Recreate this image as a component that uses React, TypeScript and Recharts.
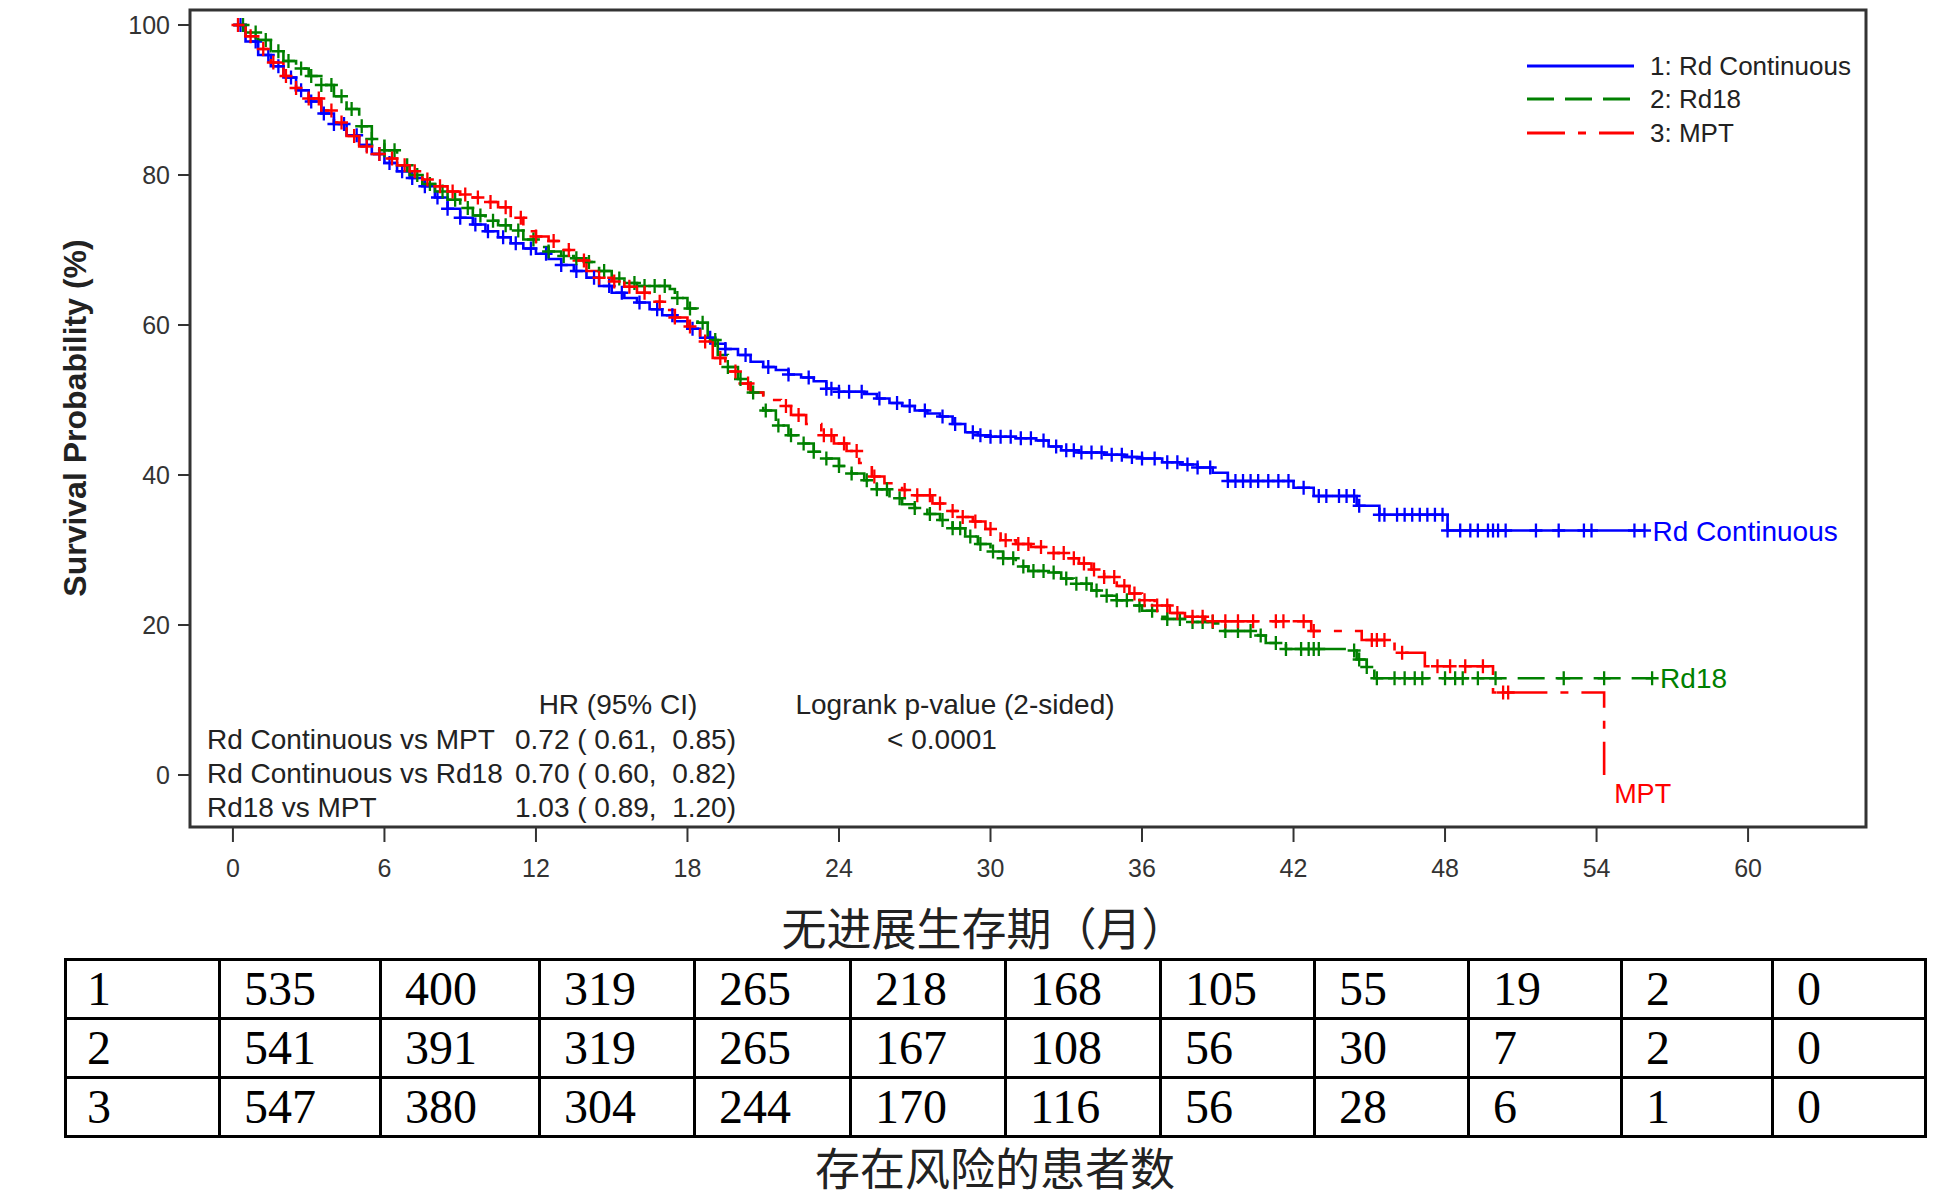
import React from 'react';
import { ComposedChart, Line, Scatter, XAxis, YAxis, ReferenceArea, ReferenceDot, Legend } from 'recharts';

// ---------- data ----------
const monthTicks = [0, 6, 12, 18, 24, 30, 36, 42, 48, 54, 60];
const survivalTicks = [0, 20, 40, 60, 80, 100];

// [month, survival %] step nodes
const rdContinuousSteps: [number, number][] = [
  [0, 100], [0.5, 97.8], [1.0, 96], [1.5, 94.5], [2.0, 93], [2.5, 91.3], [3.0, 89.8], [3.5, 88.2],
  [4.0, 86.8], [4.5, 85.3], [5.0, 84], [5.5, 82.8], [6.0, 81.6], [6.5, 80.5], [7.0, 79.6], [7.5, 78.5],
  [8.0, 77], [8.5, 75.5], [9.0, 74.3], [9.5, 73.4], [10.0, 72.5], [10.5, 71.7], [11.0, 70.9], [11.5, 70.2],
  [12.0, 69.5], [12.5, 68.8], [13.0, 68], [13.5, 67.2], [14.0, 66.3], [14.5, 65.2], [15.0, 64.3], [15.5, 63.6],
  [16.0, 63], [16.5, 62.1], [17.0, 61.3], [17.5, 60.5], [18.0, 59.5], [18.5, 58.3], [19.0, 57.5], [19.5, 56.8],
  [20.0, 56], [20.5, 55.1], [21.0, 54.4], [21.5, 54], [22.0, 53.4], [22.5, 53], [23.0, 52.5], [23.5, 51.5],
  [24.0, 51.1], [25.0, 50.8], [25.5, 50.2], [26.0, 49.6], [26.5, 49.2], [27.0, 48.6], [27.5, 48.2], [28.0, 47.8],
  [28.5, 46.8], [29.0, 45.7], [29.5, 45.3], [30.0, 45.1], [31.0, 44.9], [31.8, 44.6], [32.3, 43.8], [32.8, 43.3],
  [33.5, 43], [34.5, 42.7], [35.3, 42.4], [36.0, 42.2], [36.8, 41.7], [37.5, 41.4], [38.2, 41], [38.8, 40.3],
  [39.4, 39.2], [42.0, 38.3], [42.8, 37.2], [44.5, 35.9], [45.4, 34.7], [48.1, 32.6], [55.9, 32.6],
];
const rd18Steps: [number, number][] = [
  [0, 100], [0.5, 99], [1.0, 98], [1.5, 96.5], [2.0, 95.2], [2.5, 94.2], [3.0, 93.2], [3.5, 92],
  [4.0, 90.5], [4.5, 88.8], [5.0, 86.5], [5.5, 84.8], [6.0, 83.3], [6.5, 81.3], [7.0, 80], [7.5, 78.8],
  [8.0, 77.8], [8.5, 76.7], [9.0, 75.6], [9.5, 74.6], [10.0, 73.9], [10.5, 73.3], [11.0, 72.6], [11.5, 71.4],
  [12.0, 70.4], [12.5, 69.8], [13.0, 69.2], [13.5, 68.9], [14.0, 68.4], [14.5, 67.2], [15.0, 66.2], [15.5, 65.6],
  [16.0, 65.2], [17.3, 64.8], [17.5, 63.6], [18.0, 62.2], [18.4, 60.3], [18.8, 58], [19.2, 56], [19.6, 54.4],
  [20.0, 52.8], [20.5, 51], [21.0, 48.6], [21.5, 46.6], [22.0, 45.3], [22.5, 44.2], [23.0, 43.1], [23.5, 42.2],
  [24.0, 41.2], [24.5, 40.2], [25.0, 39.3], [25.5, 38.1], [26.0, 36.9], [26.5, 36.1], [27.0, 35.6], [27.5, 34.8],
  [28.0, 34], [28.5, 32.9], [29.0, 31.8], [29.5, 30.8], [30.0, 29.8], [30.5, 28.9], [31.0, 27.8], [31.5, 27.2],
  [32.4, 27], [32.8, 26.2], [33.3, 25.5], [34.0, 24.6], [34.5, 23.9], [35.0, 23.3], [35.5, 22.6], [36.0, 21.9],
  [36.5, 21.1], [37.0, 20.8], [38.0, 20.4], [38.9, 20.2], [39.2, 19.2], [40.6, 18.6], [40.9, 17.6], [41.7, 16.8],
  [44.3, 16.6], [44.5, 15.4], [44.9, 14.4], [45.2, 12.9], [56.2, 12.9],
];
const mptSteps: [number, number][] = [
  [0, 100], [0.5, 98.5], [1.0, 96.8], [1.5, 95], [2.0, 93.2], [2.5, 91.6], [3.0, 90.2], [3.5, 88.6],
  [4.0, 87], [4.5, 85.2], [5.0, 83.8], [5.5, 82.8], [6.0, 82.2], [6.5, 81.3], [7.0, 80.5], [7.5, 79.4],
  [8.0, 78.5], [8.5, 77.8], [9.0, 77.4], [9.5, 77], [10.0, 76.4], [10.5, 75.7], [11.0, 74.3], [11.5, 72.5],
  [12.0, 71.8], [12.5, 71.2], [13.0, 70], [13.5, 68.6], [14.0, 67.2], [14.5, 66.3], [15.0, 65.8], [15.5, 65.1],
  [16.0, 64.3], [16.5, 63.1], [17.0, 62], [17.5, 61], [18.0, 59.8], [18.5, 57.8], [19.0, 55.6], [19.5, 53.8],
  [20.0, 52.2], [20.5, 51], [21.0, 50], [21.7, 49.2], [22.1, 48], [22.7, 46.8], [23.3, 45.3], [23.8, 44.2],
  [24.3, 43.2], [24.8, 41.6], [25.3, 39.8], [25.8, 38.9], [26.5, 38], [27.0, 37.3], [27.7, 36.2], [28.3, 35.2],
  [28.8, 34.4], [29.3, 33.8], [29.8, 32.8], [30.4, 31.3], [31.0, 30.8], [31.6, 30.4], [32.4, 29.6], [33.0, 28.9],
  [33.5, 28.2], [34.0, 27.4], [34.5, 26.4], [35.0, 25.2], [35.5, 24.2], [36.0, 23.3], [36.5, 22.6], [37.1, 21.6],
  [37.7, 21.1], [38.5, 20.5], [42.7, 19.2], [44.7, 18.0], [46.0, 16.3], [47.2, 14.5], [49.9, 11.0], [54.3, 0],
];

// censoring times (months)
const rdContinuousCensored = [
  0.3, 0.9, 1.4, 1.8, 2.3, 2.7, 3.1, 3.6, 4.0, 4.4, 4.9, 5.3, 5.8, 6.2, 6.7, 7.1, 7.6, 8.1, 8.5, 9.0,
  9.6, 10.1, 10.7, 11.2, 11.8, 12.4, 13.0, 13.6, 14.3, 14.9, 15.4, 16.1, 16.8, 17.4, 18.2, 18.9, 19.5, 20.3,
  21.2, 22.0, 22.8, 23.5, 23.7, 24.0, 24.4, 24.9, 25.6, 26.3, 26.8, 27.4, 28.1, 28.6, 29.3, 29.6, 30.0, 30.4,
  30.8, 31.2, 31.6, 32.1, 32.6, 33.0, 33.3, 33.6, 34.0, 34.4, 34.8, 35.2, 35.6, 36.0, 36.5, 37.0, 37.4, 37.8,
  38.2, 38.7, 39.4, 39.7, 40.0, 40.3, 40.6, 41.0, 41.4, 41.8, 42.4, 43.0, 43.3, 43.8, 44.1, 44.4, 44.6, 45.4,
  45.6, 46.1, 46.4, 46.7, 47.0, 47.3, 47.6, 47.9, 48.1, 48.6, 49.0, 49.3, 49.7, 49.9, 50.1, 50.4, 51.6, 52.5,
  53.5, 53.8, 55.5, 55.9,
];
const rd18Censored = [
  0.4, 0.9, 1.3, 1.8, 2.2, 2.7, 3.1, 3.5, 3.9, 4.3, 4.7, 5.1, 5.5, 6.0, 6.4, 6.9, 7.3, 7.8, 8.3, 8.8,
  9.3, 9.8, 10.3, 10.8, 11.3, 11.9, 12.5, 13.1, 13.6, 14.1, 14.7, 15.3, 15.9, 16.3, 16.7, 17.1, 17.6, 18.1,
  18.6, 19.1, 19.6, 20.1, 20.6, 21.1, 21.6, 22.1, 22.6, 23.0, 23.5, 24.0, 24.5, 25.1, 25.5, 25.9, 26.4, 27.0,
  27.6, 28.1, 28.5, 28.8, 29.2, 29.6, 30.1, 30.5, 30.9, 31.3, 31.7, 32.1, 32.5, 33.0, 33.4, 33.8, 34.2, 34.6,
  35.0, 35.4, 35.9, 36.4, 37.0, 37.5, 38.0, 38.4, 38.8, 39.3, 39.8, 40.3, 40.7, 41.3, 41.7, 42.3, 42.6, 42.8,
  43.0, 44.4, 44.6, 44.9, 45.3, 46.0, 46.4, 46.8, 47.1, 48.0, 48.4, 48.7, 49.3, 50.0, 52.7, 54.3, 56.2,
];
const mptCensored = [
  0.2, 0.7, 1.2, 1.6, 2.1, 2.5, 3.0, 3.4, 3.9, 4.3, 4.8, 5.3, 5.8, 6.3, 6.8, 7.2, 7.7, 8.2, 8.7, 9.2,
  9.7, 10.2, 10.8, 11.4, 12.0, 12.7, 13.3, 13.9, 14.5, 15.1, 15.7, 16.3, 16.9, 17.5, 18.1, 18.7, 19.3, 19.9,
  20.4, 21.9, 22.4, 23.4, 23.7, 24.2, 24.7, 25.4, 26.6, 27.1, 27.6, 28.0, 28.5, 28.9, 29.4, 30.0, 30.6, 31.1,
  31.5, 32.0, 32.5, 32.9, 33.3, 33.7, 34.1, 34.5, 34.9, 35.3, 35.7, 36.1, 36.6, 37.0, 37.4, 38.0, 38.4, 38.8,
  39.3, 39.8, 40.4, 41.3, 41.6, 42.4, 42.8, 45.1, 45.3, 45.6, 46.3, 47.7, 48.2, 48.8, 49.5, 50.3, 50.5,
];

const seriesNames = ['1: Rd Continuous', '2: Rd18', '3: MPT'];
const endLabels = ['Rd Continuous', 'Rd18', 'MPT'];
const hrRows = ['Rd Continuous vs MPT', 'Rd Continuous vs Rd18', 'Rd18 vs MPT'];
const hrValues = ['0.72 ( 0.61,  0.85)', '0.70 ( 0.60,  0.82)', '1.03 ( 0.89,  1.20)'];
const pValue = '< 0.0001';
const riskGroups = ['1', '2', '3'];
const riskRd = [535, 400, 319, 265, 218, 168, 105, 55, 19, 2, 0];
const riskRd18 = [541, 391, 319, 265, 167, 108, 56, 30, 7, 2, 0];
const riskMpt = [547, 380, 304, 244, 170, 116, 56, 28, 6, 1, 0];

// ---------- helpers ----------
const stepAt = (steps: [number, number][], t: number) => {
  let s = steps[0][1];
  for (const [tt, ss] of steps) {
    if (tt <= t + 1e-9) s = ss;
    else break;
  }
  return s;
};
const toPoints = (steps: [number, number][]) => steps.map(([t, s]) => ({ t, s }));
const toCensor = (steps: [number, number][], times: number[]) => times.map((t) => ({ t, s: stepAt(steps, t) }));

const SANS = '"Liberation Sans", Arial, Helvetica, sans-serif';
const SERIF = '"Liberation Serif", "Times New Roman", serif';
const CJK = '"Noto Sans CJK SC", "Noto Sans CJK JP", sans-serif';

const series = [
  { key: 'rd', color: '#0000ff', dash: undefined as string | undefined, steps: rdContinuousSteps, censor: rdContinuousCensored, name: seriesNames[0], end: endLabels[0] },
  { key: 'rd18', color: '#008000', dash: '27 11', steps: rd18Steps, censor: rd18Censored, name: seriesNames[1], end: endLabels[1] },
  { key: 'mpt', color: '#ff0000', dash: '38 13 8 13', steps: mptSteps, censor: mptCensored, name: seriesNames[2], end: endLabels[2] },
];

const plusShape = (color: string) => (props: any) => {
  const { cx, cy } = props;
  if (cx == null || cy == null) return <g />;
  return (
    <path d={`M${cx - 6.5},${cy}H${cx + 6.5}M${cx},${cy - 7}V${cy + 7}`} stroke={color} strokeWidth={2.3} fill="none" />
  );
};

const LegendBox = () => (
  <div style={{ fontFamily: SANS, fontSize: 26, color: '#222' }}>
    {series.map((s) => (
      <div key={s.key} style={{ display: 'flex', alignItems: 'center', height: 33.5 }}>
        <svg width={107} height={8} style={{ display: 'block' }}>
          <line x1={0} y1={4} x2={107} y2={4} stroke={s.color} strokeWidth={3} strokeDasharray={s.dash} />
        </svg>
        <span style={{ marginLeft: 16, lineHeight: '26px', whiteSpace: 'nowrap' }}>{s.name}</span>
      </div>
    ))}
  </div>
);

const colEdges = [65, 219, 380, 539, 694, 850, 1005, 1160, 1314, 1468, 1621, 1772, 1925];
const rowEdges = [959, 1018, 1077, 1136];
const LINE = 3;

export default function App() {
  const riskTable = [riskRd, riskRd18, riskMpt];
  return (
    <div style={{ position: 'absolute', left: 0, top: 0, width: 1951, height: 1203, background: '#fff', overflow: 'hidden' }}>
      <ComposedChart width={1951} height={910} margin={{ top: 10, right: 85, bottom: 0, left: 0 }}>
        <XAxis
          dataKey="t"
          type="number"
          domain={[-1.7, 64.67]}
          allowDataOverflow
          ticks={monthTicks}
          axisLine={false}
          tickLine={{ stroke: '#333', strokeWidth: 2 }}
          tickSize={15}
          tickMargin={17}
          height={83}
          tick={{ fontSize: 25, fontFamily: SANS, fill: '#333' }}
          interval={0}
        />
        <YAxis
          dataKey="s"
          type="number"
          domain={[-6.93, 102]}
          allowDataOverflow
          ticks={survivalTicks}
          axisLine={false}
          tickLine={{ stroke: '#333', strokeWidth: 2 }}
          tickSize={12}
          tickMargin={8}
          width={190}
          tick={{ fontSize: 25, fontFamily: SANS, fill: '#333' }}
          interval={0}
        />
        {series.map((s) => (
          <Line
            key={`line-${s.key}`}
            data={toPoints(s.steps)}
            dataKey="s"
            type="stepAfter"
            stroke={s.color}
            strokeWidth={2.6}
            strokeDasharray={s.dash}
            dot={false}
            activeDot={false}
            isAnimationActive={false}
            legendType="none"
          />
        ))}
        {series.map((s) => (
          <Scatter
            key={`cens-${s.key}`}
            data={toCensor(s.steps, s.censor)}
            dataKey="s"
            shape={plusShape(s.color)}
            isAnimationActive={false}
            legendType="none"
          />
        ))}
        {series.map((s, i) => {
          const last = s.steps[s.steps.length - 1];
          return (
            <ReferenceDot
              key={`lab-${s.key}`}
              x={last[0]}
              y={last[1]}
              r={0}
              fill="none"
              stroke="none"
              label={{
                content: (p: any) => {
                  const vb = p.viewBox || {};
                  const x = vb.x ?? 0;
                  const y = vb.y ?? 0;
                  if (i === 2) {
                    return (
                      <text x={x + 10} y={y + 28} fontSize={27} fontFamily={SANS} fill={s.color}>
                        {s.end}
                      </text>
                    );
                  }
                  return (
                    <text x={x + 8} y={y + 10} fontSize={28} fontFamily={SANS} fill={s.color}>
                      {s.end}
                    </text>
                  );
                },
              }}
            />
          );
        })}
        <ReferenceArea x1={-1.7} x2={64.67} y1={-6.93} y2={102} fill="none" fillOpacity={0} stroke="#333" strokeWidth={3} />
        <Legend
          layout="horizontal"
          verticalAlign="middle"
          align="center"
          content={() => <LegendBox />}
          wrapperStyle={{ position: 'absolute', left: 1527, top: 49, width: 420, height: 110 }}
        />
      </ComposedChart>

      {/* annotations */}
      <svg width={1951} height={880} style={{ position: 'absolute', left: 0, top: 0, pointerEvents: 'none' }}>
        <text
          x={86}
          y={418}
          transform="rotate(-90 86 418)"
          textAnchor="middle"
          fontSize={32}
          fontWeight="bold"
          fontFamily={SANS}
          fill="#222"
        >
          Survival Probability (%)
        </text>
        <g fontFamily={SANS} fontSize={28} fill="#222" style={{ whiteSpace: 'pre' }}>
          <text x={618} y={714} textAnchor="middle">HR (95% CI)</text>
          <text x={955} y={714} textAnchor="middle">Logrank p-value (2-sided)</text>
          {hrRows.map((r, i) => (
            <text key={r} x={207} y={749 + i * 34}>{r}</text>
          ))}
          {hrValues.map((v, i) => (
            <text key={v} x={736} y={749 + i * 34} textAnchor="end" xmlSpace="preserve">{v}</text>
          ))}
          <text x={942} y={749} textAnchor="middle">{pValue}</text>
        </g>
      </svg>

      <div
        style={{
          position: 'absolute', left: 584, width: 800, top: 898, height: 58, textAlign: 'center',
          fontFamily: CJK, fontSize: 45, lineHeight: '58px', color: '#222',
        }}
      >
        无进展生存期（月）
      </div>

      {/* risk table: cell texts */}
      {riskGroups.map((g, r) => (
        <React.Fragment key={g}>
          {[g, ...riskTable[r].map(String)].map((v, c) => (
            <div
              key={c}
              style={{
                position: 'absolute', left: colEdges[c], top: rowEdges[r],
                width: colEdges[c + 1] - colEdges[c], height: rowEdges[r + 1] - rowEdges[r], boxSizing: 'border-box',
                paddingLeft: c === 0 ? 22 : 25, paddingTop: 2, fontFamily: SERIF, fontSize: 48, lineHeight: '56px', color: '#000',
                whiteSpace: 'nowrap',
              }}
            >
              {v}
            </div>
          ))}
        </React.Fragment>
      ))}
      {/* risk table: grid lines */}
      {rowEdges.map((y) => (
        <div
          key={`h${y}`}
          style={{ position: 'absolute', left: colEdges[0] - LINE / 2, top: y - LINE / 2, width: colEdges[colEdges.length - 1] - colEdges[0] + LINE, height: LINE, background: '#000' }}
        />
      ))}
      {colEdges.map((x) => (
        <div
          key={`v${x}`}
          style={{ position: 'absolute', left: x - LINE / 2, top: rowEdges[0] - LINE / 2, width: LINE, height: rowEdges[rowEdges.length - 1] - rowEdges[0] + LINE, background: '#000' }}
        />
      ))}

      <div
        style={{
          position: 'absolute', left: 595, width: 800, top: 1138, height: 58, textAlign: 'center',
          fontFamily: CJK, fontSize: 45, lineHeight: '58px', color: '#222',
        }}
      >
        存在风险的患者数
      </div>
    </div>
  );
}
